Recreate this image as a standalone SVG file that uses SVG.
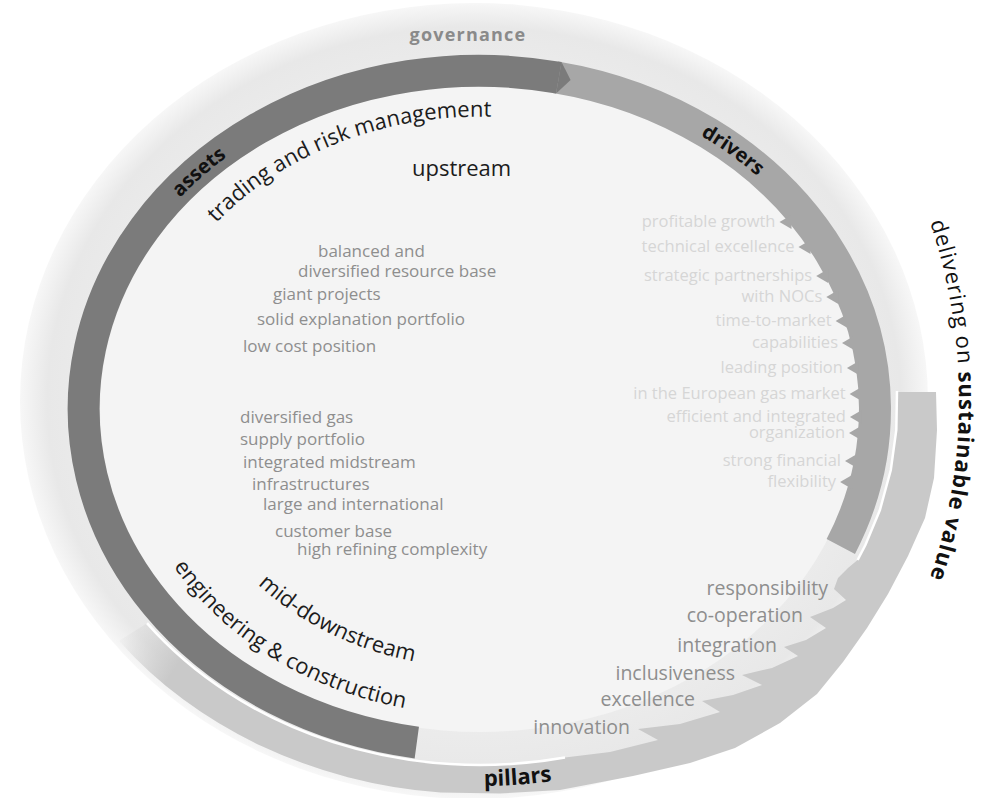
<svg xmlns="http://www.w3.org/2000/svg" width="991" height="798" viewBox="0 0 991 798">
<style>
text{font-family:"Open Sans","Noto Sans","Liberation Sans",sans-serif}
.item{font-size:17px;fill:#8e8e8e}
.pil{font-size:19.5px;fill:#8e8e8e}
.drv{font-size:16.5px;fill:#d6d6d6}
.head{font-size:22px;fill:#1c1c1c}
.band{font-size:20px;font-weight:700;fill:#111}
.gov{font-size:18px;font-weight:700;fill:#8a8a8a;letter-spacing:1.2px}
.notch{fill:#a7a7a7}
.sep{fill:none;stroke:#ffffff;stroke-width:2.5}
</style>
<defs>
<radialGradient id="disc" cx="50%" cy="50%" r="50%">
<stop offset="0.78" stop-color="#ededed"/>
<stop offset="0.94" stop-color="#e8e8e8"/>
<stop offset="1" stop-color="#f7f7f7"/>
</radialGradient>
<linearGradient id="pilFill" gradientUnits="userSpaceOnUse" x1="122" y1="628" x2="178" y2="664">
<stop offset="0" stop-color="#c9c9c9" stop-opacity="0"/>
<stop offset="1" stop-color="#c9c9c9" stop-opacity="1"/>
</linearGradient>
<path id="pTrading" d="M216.3,223 A341.7,292.4 0 0 1 759.9,241.3"/>
<path id="pAssets" d="M124.6,274 A389,332 0 0 1 309.5,110.6"/>
<path id="pDrivers" d="M613,97 A389,332 0 0 1 820.2,248"/>
<path id="pEng" d="M173.6,566.6 A357.5,306 0 0 0 542.1,710.3"/>
<path id="pMid" d="M258,584.4 A302.2,258.6 0 0 0 631.1,633"/>
<path id="pPillars" d="M403.4,780.3 A441,377 0 0 0 630.8,763.3"/>
<path id="pDeliver" d="M921.9,199.7 A559,559 0 0 1 921.9,600.3"/>
</defs>
<rect width="991" height="798" fill="#ffffff"/>
<g id="background">
<ellipse cx="474" cy="401" rx="454" ry="398" fill="url(#disc)"/>
<ellipse cx="480" cy="409" rx="380" ry="323" fill="#f4f4f4"/>
</g>
<g id="ring-pillars">
<path d="M119,640.7 A452,385 0 0 0 440.6,792.5 L500,793.6 L560,790 L633,776 L690,763 L735,748 L780,723 L817,694 L843,662 L867,628 L888,594 L908,556 L925,518 L934,478 L937,430 L936,392 L897,392 L896.3,430 L890.8,470 L879.9,510 L865.4,545 L857.6,560 L848,568 L838,578 L834,589 L846,600 L833,608 L810,617 L826,628 L806,640 L784,647 L798,656 L772,668 L742,675 L762,685 L733,695 L702,701 L720,712 L680,724 L638,729 L658,740 L610,752 L565,757.5 A417,356 0 0 1 147,623.2 Z" fill="url(#pilFill)"/>
<path class="sep" d="M147,623.2 A417,356 0 0 0 565,757.5"/>
<path class="sep" d="M897,391 L896.3,430 L890.8,470 L879.9,510 L865.4,545 L857.6,560"/>
</g>
<g id="ring-drivers">
<path d="M555.4,77.2 A395,338 0 0 1 840.8,546.5" fill="none" stroke="#a7a7a7" stroke-width="32"/>
</g>
<g id="ring-assets">
<path d="M416.8,742.6 A395,338 0 1 1 558.8,77.8" fill="none" stroke="#7b7b7b" stroke-width="32"/>
<polygon points="561.5,62 570.6,79.9 556.1,93.6" fill="#7b7b7b"/>
</g>
<g id="connectors">
<polygon class="notch" points="791.5,215 779.5,222 791.5,229"/>
<polygon class="notch" points="810.5,240 798.5,247 810.5,254"/>
<polygon class="notch" points="828.2,269 816.2,276 828.2,283"/>
<polygon class="notch" points="838.3,290 826.3,297 838.3,304"/>
<polygon class="notch" points="847.6,314 835.6,321 847.6,328"/>
<polygon class="notch" points="854,336 842,343 854,350"/>
<polygon class="notch" points="858.9,361 846.9,368 858.9,375"/>
<polygon class="notch" points="861.6,387 849.6,394 861.6,401"/>
<polygon class="notch" points="861.9,410 849.9,417 861.9,424"/>
<polygon class="notch" points="861,426 849,433 861,440"/>
<polygon class="notch" points="857,454 845,461 857,468"/>
<polygon class="notch" points="852.1,475 840.1,482 852.1,489"/>
</g>
<g id="label-governance"><text class="gov" x="468" y="41" text-anchor="middle">governance</text></g>
<g id="label-assets"><text class="band"><textPath href="#pAssets" startOffset="50%" text-anchor="middle">assets</textPath></text></g>
<g id="label-drivers"><text class="band"><textPath href="#pDrivers" startOffset="50%" text-anchor="middle">drivers</textPath></text></g>
<g id="label-pillars"><text class="band" style="font-size:22px"><textPath href="#pPillars" startOffset="50%" text-anchor="middle">pillars</textPath></text></g>
<g id="label-trading"><text class="head"><textPath href="#pTrading">trading and risk management</textPath></text></g>
<g id="label-upstream"><text class="head" x="412" y="176">upstream</text></g>
<g id="label-mid"><text class="head"><textPath href="#pMid">mid-downstream</textPath></text></g>
<g id="label-eng"><text class="head"><textPath href="#pEng">engineering &amp; construction</textPath></text></g>
<g id="label-deliver"><text style="font-size:22px;fill:#111;letter-spacing:1px"><textPath href="#pDeliver" startOffset="24">delivering on <tspan style="font-weight:700">sustainable value</tspan></textPath></text></g>
<g id="upstream-items" class="item">
<text x="318" y="257">balanced and</text>
<text x="298" y="277">diversified resource base</text>
<text x="273" y="300">giant projects</text>
<text x="257" y="325">solid explanation portfolio</text>
<text x="243" y="352">low cost position</text>
</g>
<g id="mid-items" class="item">
<text x="240" y="423">diversified gas</text>
<text x="240" y="445">supply portfolio</text>
<text x="243" y="468">integrated midstream</text>
<text x="252" y="490">infrastructures</text>
<text x="263" y="510">large and international</text>
<text x="275" y="537">customer base</text>
<text x="297" y="555">high refining complexity</text>
</g>
<g id="driver-items" class="drv" text-anchor="end">
<text x="775.5" y="227">profitable growth</text>
<text x="794.5" y="252">technical excellence</text>
<text x="812.2" y="281">strategic partnerships</text>
<text x="822.3" y="302">with NOCs</text>
<text x="831.6" y="326">time-to-market</text>
<text x="838" y="348">capabilities</text>
<text x="842.9" y="373">leading position</text>
<text x="845.6" y="399">in the European gas market</text>
<text x="845.9" y="422">efficient and integrated</text>
<text x="845" y="438">organization</text>
<text x="841" y="466">strong financial</text>
<text x="836.1" y="487">flexibility</text>
</g>
<g id="pillar-items" class="pil" text-anchor="end">
<text x="828" y="595">responsibility</text>
<text x="803" y="622">co-operation</text>
<text x="777" y="652">integration</text>
<text x="735" y="680">inclusiveness</text>
<text x="695" y="706">excellence</text>
<text x="630" y="734">innovation</text>
</g>
</svg>
